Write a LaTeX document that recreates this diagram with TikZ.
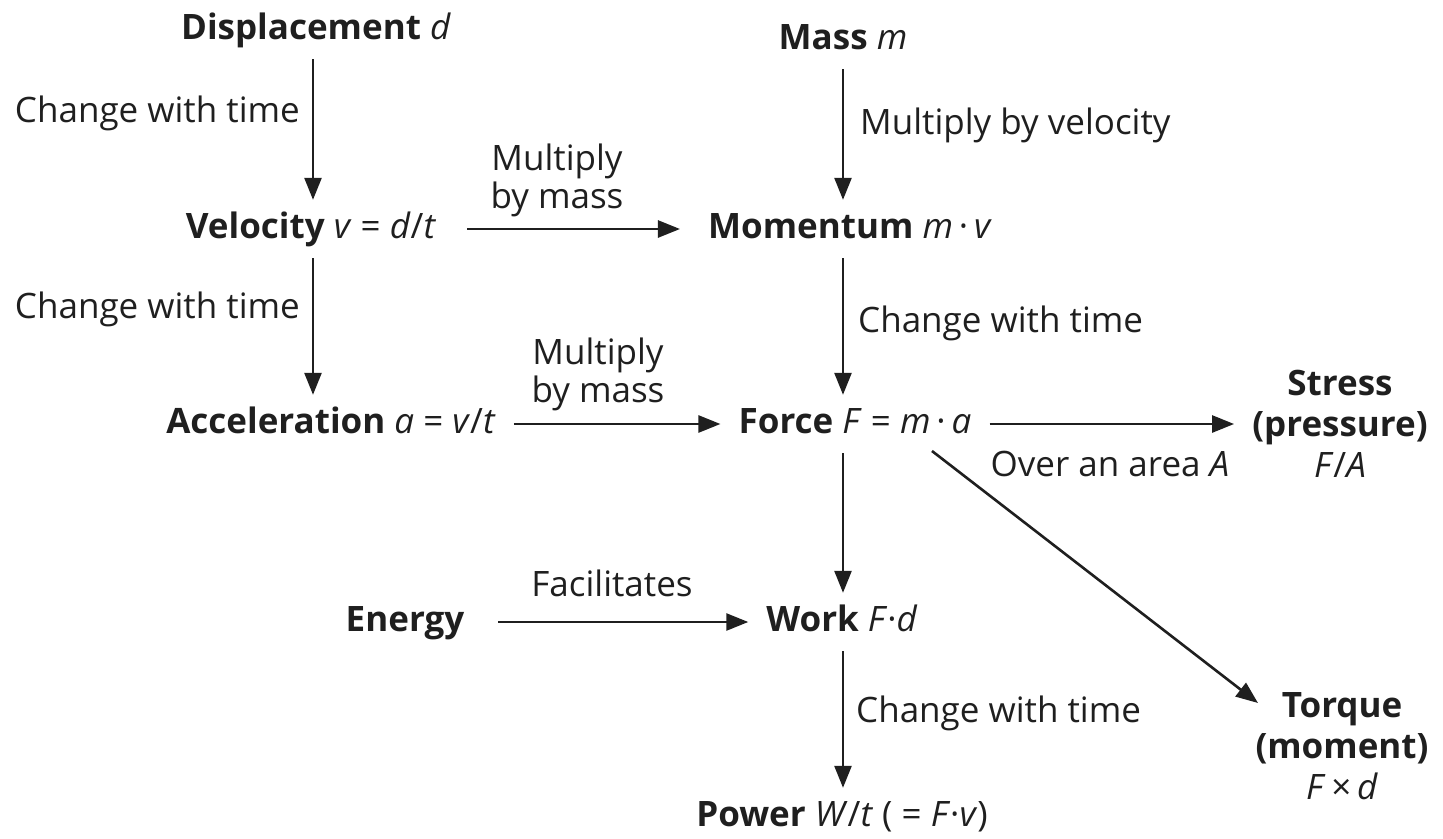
\documentclass[tikz,border=0pt]{standalone}
\usepackage{fontspec}
\setmainfont{Open Sans}
\usetikzlibrary{arrows.meta}
\begin{document}
\begin{tikzpicture}[x=1pt,y=-1pt,
  every node/.style={font=\fontsize{35}{42}\selectfont, inner sep=0pt, text=black!88},
  conc/.style={text height=26pt, text depth=8pt, inner xsep=18pt, inner ysep=12pt, align=center},
  conc3/.style={inner xsep=18pt, inner ysep=4pt, align=center, font=\fontsize{35}{41}\selectfont},
  lbl/.style={align=center, font=\fontsize{35}{38}\selectfont},
  arr/.style={line width=2.6pt, draw=black!88, -{Triangle[length=22pt,width=17pt]}}
]
\useasboundingbox (0,0) rectangle (1443,838);
\coordinate (c1) at (313,0);
\coordinate (c2) at (843,0);
% concepts
\node[conc] (disp) at (316,30) {\textbf{Displacement} \textit{d}};
\node[conc] (mass) at (843,40) {\textbf{Mass} \textit{m}};
\node[conc] (vel) at (311,229) {\textbf{Velocity} \textit{v} = \textit{d}/\textit{t}};
\node[conc] (mom) at (850,229) {\textbf{Momentum} \textit{m}\,·\,\textit{v}};
\node[conc] (acc) at (331,424) {\textbf{Acceleration} \textit{a} = \textit{v}/\textit{t}};
\node[conc] (force) at (855,424) {\textbf{Force} \textit{F} = \textit{m}\,·\,\textit{a}};
\node[conc3] (stress) at (1340,424) {\textbf{Stress}\\\textbf{(pressure)}\\\textit{F}/\textit{A}};
\node[conc] (energy) at (405,622) {\textbf{Energy}};
\node[conc] (work) at (842,622) {\textbf{Work} \textit{F}·\textit{d}};
\node[conc] (power) at (842,817) {\textbf{Power} \textit{W}/\textit{t} ( = \textit{F}·\textit{v})};
\node[conc3] (torque) at (1342,746) {\textbf{Torque}\\\textbf{(moment)}\\\textit{F}\,×\,\textit{d}};
% labels
\node[lbl, anchor=east] (l1) at (300,113) {Change with time};
\node[lbl, anchor=east] (l2) at (300,309) {Change with time};
\node[lbl] (l3) at (557,180) {Multiply\\by mass};
\node[lbl] (l4) at (598,374) {Multiply\\by mass};
\node[lbl, anchor=west] (l5) at (860,125) {Multiply by velocity};
\node[lbl, anchor=west] (l6) at (858,323) {Change with time};
\node[lbl] (l7) at (1110,464) {Over an area \textit{A}};
\node[lbl] (l8) at (612,583) {Facilitates};
\node[lbl, anchor=west] (l9) at (856,713) {Change with time};
% connectors
\draw[arr] (disp.south -| c1) -- (vel.north -| c1);
\draw[arr] (vel.south -| c1) -- (acc.north -| c1);
\draw[arr] (mass.south -| c2) -- (mom.north -| c2);
\draw[arr] (mom.south -| c2) -- (force.north -| c2);
\draw[arr] (force.south -| c2) -- (work.north -| c2);
\draw[arr] (work.south -| c2) -- (power.north -| c2);
\draw[arr, shorten <=13pt, shorten >=10pt] (vel.east) -- (vel.east -| mom.west);
\draw[arr] (acc.east) -- (acc.east -| force.west);
\draw[arr] (force.east) -- (force.east -| stress.west);
\draw[arr, shorten <=16pt] (energy.east) -- (energy.east -| work.west);
\draw[arr] ([shift={(77,27)}]force.center) -- ([shift={(-84,-43)}]torque.center);
\end{tikzpicture}
\end{document}
